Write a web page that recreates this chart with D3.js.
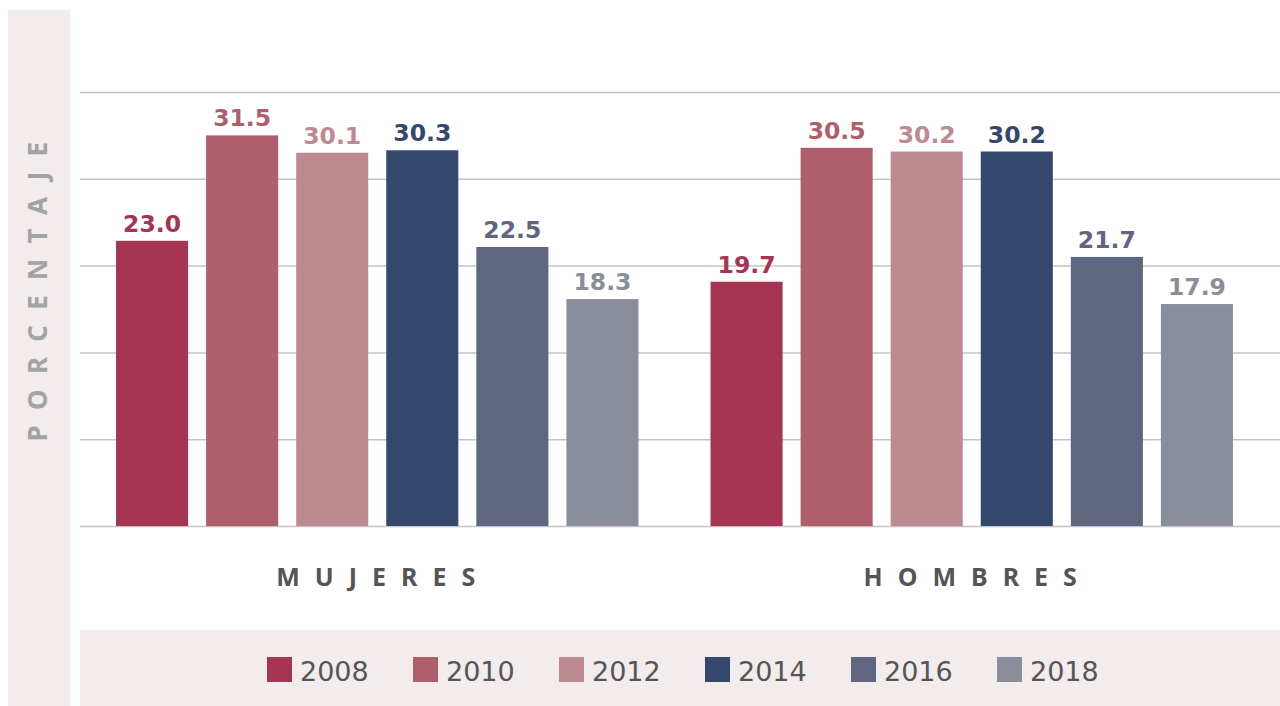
<!DOCTYPE html>
<html lang="es">
<head>
<meta charset="utf-8">
<title>Porcentaje por sexo y año</title>
<script src="https://d3js.org/d3.v7.min.js"></script>
<style>
  body { margin: 0; background: #fff; }
  svg { display: block; font-family: "Noto Sans", "DejaVu Sans", sans-serif; }
  .val { font-family: "DejaVu Sans", sans-serif; font-weight: 700; font-size: 23.5px; }
  .cat { font-weight: 700; font-size: 25px; fill: #555; letter-spacing: 15px; }
  .ylab { font-weight: 700; font-size: 26px; fill: #a3a3a3; letter-spacing: 15.3px; }
  .leg { font-family: "DejaVu Sans", sans-serif; font-size: 27px; fill: #555; }
</style>
</head>
<body>
<script>
// data
const groups = ["MUJERES", "HOMBRES"];
const years = ["2008", "2010", "2012", "2014", "2016", "2018"];
const mujeres = [23.0, 31.5, 30.1, 30.3, 22.5, 18.3];
const hombres = [19.7, 30.5, 30.2, 30.2, 21.7, 17.9];
const colors = ["#a53552", "#af5f6b", "#be8a91", "#33486c", "#5e6680", "#8a8e9a"];
const yTicks = [0, 7, 14, 21, 28, 35];

const values = { MUJERES: mujeres, HOMBRES: hombres };

const w = 1280, h = 706;
const svg = d3.select("body").append("svg")
  .attr("width", w)
  .attr("height", h);

// side panel + legend band
svg.append("rect").attr("x", 8).attr("y", 10).attr("width", 62).attr("height", h - 10).attr("fill", "#f2eced");
svg.append("rect").attr("x", 80).attr("y", 630).attr("width", w - 80).attr("height", 76).attr("fill", "#f2eced");

svg.append("text")
  .attr("class", "ylab")
  .attr("transform", "translate(47,284) rotate(-90)")
  .attr("text-anchor", "middle")
  .text("PORCENTAJE");

// scales
const x0 = d3.scaleBand().domain(groups).range([80, 1269]).padding(0);
const x1 = d3.scaleBand().domain(years).range([0, x0.bandwidth()])
  .paddingInner(0.2).paddingOuter(0.4);
const y = d3.scaleLinear().domain([0, 35]).range([526, 92]);
const color = d3.scaleOrdinal(years, colors);

// gridlines
svg.append("g")
  .attr("transform", "translate(80,0)")
  .call(d3.axisLeft(y).tickValues(yTicks).tickSize(-1200).tickFormat(""))
  .call(g => g.select(".domain").remove())
  .call(g => g.selectAll("line").attr("stroke", "#c4c4c4").attr("stroke-width", 1.5));

// bars
const gs = svg.selectAll("g.grp")
  .data(groups)
  .enter()
  .append("g")
  .attr("class", "grp")
  .attr("transform", d => "translate(" + x0(d) + ",0)");

const bars = gs.selectAll("g.bar")
  .data(g => years.map((yr, i) => ({ year: yr, value: values[g][i] })))
  .enter()
  .append("g")
  .attr("class", "bar");

bars.append("rect")
  .attr("x", d => x1(d.year))
  .attr("y", d => y(d.value))
  .attr("width", x1.bandwidth())
  .attr("height", d => y(0) - y(d.value))
  .attr("fill", d => color(d.year));

bars.append("text")
  .attr("class", "val")
  .attr("x", d => x1(d.year) + x1.bandwidth() / 2)
  .attr("y", d => y(d.value) - 9)
  .attr("text-anchor", "middle")
  .attr("fill", d => color(d.year))
  .text(d => d3.format(".1f")(d.value));

// group labels
svg.selectAll("text.cat")
  .data(groups)
  .enter()
  .append("text")
  .attr("class", "cat")
  .attr("x", d => x0(d) + x0.bandwidth() / 2 + 6)
  .attr("y", 586)
  .attr("text-anchor", "middle")
  .text(d => d);

// legend
const leg = svg.selectAll("g.legend")
  .data(years)
  .enter()
  .append("g")
  .attr("class", "legend")
  .attr("transform", (d, i) => "translate(" + (267 + i * 146) + ",657)");

leg.append("rect")
  .attr("width", 25)
  .attr("height", 25)
  .attr("fill", d => color(d));

leg.append("text")
  .attr("class", "leg")
  .attr("x", 33)
  .attr("y", 24)
  .text(d => d);
</script>
</body>
</html>
